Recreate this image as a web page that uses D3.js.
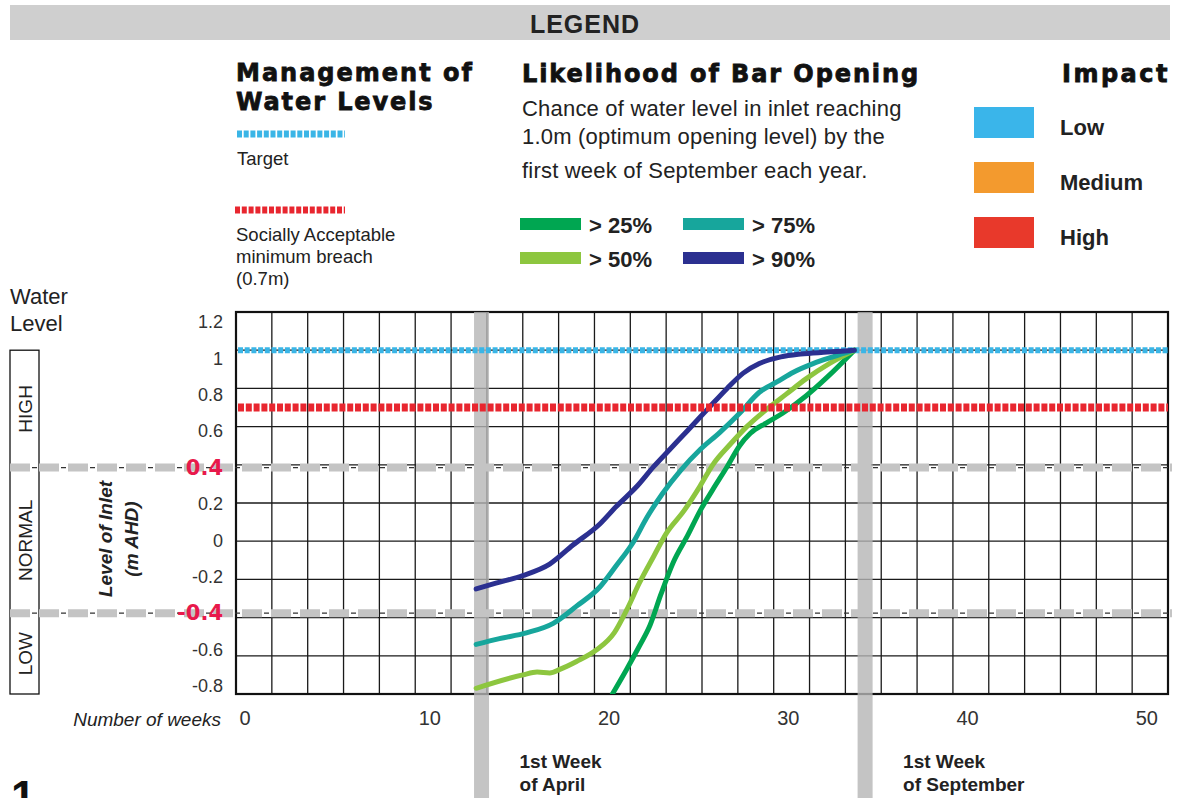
<!DOCTYPE html>
<html>
<head>
<meta charset="utf-8">
<script src="https://cdn.jsdelivr.net/npm/d3@7"></script>
<style>
  body { margin: 0; background: #fff; }
  text { font-family: "Liberation Sans", Arial, sans-serif; fill: #222; }
</style>
</head>
<body>
<div id="chart"></div>
<script>
// Data (week number, inlet level in m AHD)
var weeks25 = [21.0, 21.8, 22.5, 23.1, 23.7, 24.4, 25.2, 25.9, 26.6, 27.4, 28.1, 28.7, 29.6, 30.5, 31.8, 33.0, 34.5];
var level25 = [-0.80, -0.67, -0.55, -0.44, -0.28, -0.11, 0.03, 0.16, 0.27, 0.39, 0.50, 0.565, 0.62, 0.67, 0.76, 0.86, 1.0];

var weeks50 = [13.4, 16.0, 16.8, 17.5, 18.1, 19.0, 20.1, 21.1, 21.8, 22.5, 23.3, 24.0, 25.0, 25.9, 26.6, 27.6, 28.5, 29.6, 30.7, 31.8, 33.1, 34.5];
var level50 = [-0.77, -0.70, -0.685, -0.69, -0.67, -0.63, -0.57, -0.48, -0.36, -0.22, -0.08, 0.04, 0.16, 0.29, 0.40, 0.51, 0.60, 0.69, 0.77, 0.85, 0.93, 1.0];

var weeks75 = [13.4, 14.7, 16.2, 17.7, 19.0, 20.3, 21.2, 22.2, 22.9, 23.8, 24.8, 25.9, 27.0, 28.1, 29.2, 30.2, 31.1, 32.2, 33.3, 34.5];
var level75 = [-0.54, -0.51, -0.48, -0.43, -0.34, -0.24, -0.13, 0.0, 0.12, 0.25, 0.37, 0.48, 0.57, 0.67, 0.78, 0.835, 0.885, 0.93, 0.965, 1.0];

var weeks90 = [13.4, 14.5, 16.0, 17.5, 18.8, 20.3, 21.2, 22.4, 23.3, 24.2, 25.2, 26.3, 27.4, 28.3, 29.2, 30.4, 31.5, 33.0, 34.5];
var level90 = [-0.25, -0.22, -0.18, -0.12, -0.02, 0.09, 0.18, 0.29, 0.39, 0.48, 0.58, 0.69, 0.80, 0.88, 0.93, 0.965, 0.98, 0.99, 1.0];

var seriesNames = ["> 25%", "> 50%", "> 75%", "> 90%"];
var seriesColors = ["#00a651", "#8dc63f", "#17a69c", "#2b3090"];
var seriesWeeks = [weeks25, weeks50, weeks75, weeks90];
var seriesLevels = [level25, level50, level75, level90];

var targetLevel = 1.0;
var breachLevel = 0.7;
var zoneNames = ["HIGH", "NORMAL", "LOW"];
var zoneBreaks = [1.0, 0.4, -0.4, -0.8];

var markerWeeks = [13.7, 35.1];
var markerLabels = [["1st Week", "of April"], ["1st Week", "of September"]];

var impactNames = ["Low", "Medium", "High"];
var impactColors = ["#3ab5ea", "#f39a2e", "#e8392b"];

var yTickValues = [1.2, 1, 0.8, 0.6, 0.4, 0.2, 0, -0.2, -0.4, -0.6, -0.8];
var xTickValues = [0, 10, 20, 30, 40, 50];

//Dimensions
var W = 1179, H = 798;
var plot = { left: 236, right: 1168, top: 312, bottom: 694 };

var svg = d3.select("#chart")
    .append("svg")
    .attr("width", W)
    .attr("height", H);

svg.append("rect").attr("width", W).attr("height", H).attr("fill", "#fff");

//Scales
var x = d3.scaleLinear().domain([0, 52]).range([plot.left, plot.right]);
var y = d3.scaleLinear().domain([-0.8, 1.2]).range([plot.bottom, plot.top]);
// the tick labels in the original sit on a slightly tighter scale than the grid
var yLab = d3.scaleLinear().domain([-0.8, 1.2]).range([686, 322]);

//Legend bar
svg.append("rect")
    .attr("x", 10).attr("y", 5).attr("width", 1160).attr("height", 35)
    .attr("fill", "#cfcfcf");
svg.append("text")
    .attr("x", 585).attr("y", 33)
    .attr("text-anchor", "middle")
    .style("font-size", "25px").style("font-weight", "bold").style("letter-spacing", "1px")
    .text("LEGEND");

//Legend headings
function heading(px, py, str, ls) {
    svg.append("text")
        .attr("x", px).attr("y", py)
        .style("font-family", "'DejaVu Sans', sans-serif")
        .style("font-size", "24px").style("font-weight", "bold")
        .style("letter-spacing", ls + "px")
        .style("fill", "#111")
        .style("stroke", "#111").style("stroke-width", 0.8)
        .text(str);
}
heading(236, 81, "Management of", 2.0);
heading(236, 110, "Water Levels", 1.9);
heading(522, 82, "Likelihood of Bar Opening", 1.9);
heading(1062, 82, "Impact", 2.5);

//Management legend
svg.append("line")
    .attr("x1", 237).attr("x2", 345).attr("y1", 134).attr("y2", 134)
    .attr("stroke", "#3ab5e6").attr("stroke-width", 7).attr("stroke-dasharray", "5,1.7");
svg.append("text").attr("x", 237).attr("y", 165).style("font-size", "18.5px").text("Target");

svg.append("line")
    .attr("x1", 235).attr("x2", 345).attr("y1", 210).attr("y2", 210)
    .attr("stroke", "#e8262f").attr("stroke-width", 7).attr("stroke-dasharray", "5,1.8");
["Socially Acceptable", "minimum breach", "(0.7m)"].forEach(function (s, i) {
    svg.append("text").attr("x", 236).attr("y", 241 + i * 22).style("font-size", "18.5px").text(s);
});

//Likelihood legend
["Chance of water level in inlet reaching",
 "1.0m (optimum opening level) by the",
 "first week of September each year."].forEach(function (s, i) {
    svg.append("text")
        .attr("x", 522).attr("y", [116, 144, 178][i])
        .style("font-size", "22px").style("letter-spacing", "0.2px")
        .text(s);
});

seriesNames.forEach(function (name, i) {
    var col = Math.floor(i / 2), row = i % 2;
    var lx = 520 + col * 163, ly = 224 + row * 34;
    svg.append("rect")
        .attr("x", lx).attr("y", ly - 6).attr("width", 61).attr("height", 12)
        .attr("fill", seriesColors[i]);
    svg.append("text")
        .attr("x", lx + 69).attr("y", ly + 9)
        .style("font-size", "22px").style("font-weight", "bold")
        .text(name);
});

//Impact legend
impactNames.forEach(function (name, i) {
    var ly = 107 + i * 55;
    svg.append("rect")
        .attr("x", 974).attr("y", ly).attr("width", 60).attr("height", 31)
        .attr("fill", impactColors[i]);
    svg.append("text")
        .attr("x", 1060).attr("y", ly + 28)
        .style("font-size", "22px").style("font-weight", "bold")
        .text(name);
});

//Water level label
svg.append("text").attr("x", 10).attr("y", 304).style("font-size", "22px").text("Water");
svg.append("text").attr("x", 10).attr("y", 331).style("font-size", "22px").text("Level");

//Plot background and grid
svg.append("rect")
    .attr("x", plot.left).attr("y", plot.top)
    .attr("width", plot.right - plot.left).attr("height", plot.bottom - plot.top)
    .attr("fill", "#fff");

var grid = svg.append("g").attr("stroke", "#1a1a1a").attr("stroke-width", 1.3);
grid.selectAll(".gx")
    .data(d3.range(2, 52, 2))
    .enter().append("line")
    .attr("x1", function (d) { return x(d); }).attr("x2", function (d) { return x(d); })
    .attr("y1", plot.top).attr("y2", plot.bottom);
grid.selectAll(".gy")
    .data(y.ticks(10))
    .enter().append("line")
    .attr("x1", plot.left).attr("x2", plot.right)
    .attr("y1", function (d) { return y(d); }).attr("y2", function (d) { return y(d); });

svg.append("rect")
    .attr("x", plot.left).attr("y", plot.top)
    .attr("width", plot.right - plot.left).attr("height", plot.bottom - plot.top)
    .attr("fill", "none").attr("stroke", "#111").attr("stroke-width", 2.2);

//Month markers
markerWeeks.forEach(function (w, i) {
    svg.append("rect")
        .attr("x", x(w) - 7.5).attr("y", plot.top)
        .attr("width", 15).attr("height", H - plot.top)
        .attr("fill", "#b5b5b5").attr("opacity", 0.8);
    markerLabels[i].forEach(function (s, j) {
        svg.append("text")
            .attr("x", x(w) + 38).attr("y", 768 + j * 23)
            .style("font-size", "19px").style("font-weight", "bold")
            .text(s);
    });
});

//Zone box on the left
svg.append("rect")
    .attr("x", 10).attr("y", y(zoneBreaks[0]))
    .attr("width", 29).attr("height", y(zoneBreaks[3]) - y(zoneBreaks[0]))
    .attr("fill", "none").attr("stroke", "#111").attr("stroke-width", 1.3);

var zoneEdges = [y(zoneBreaks[0]), yLab(zoneBreaks[1]), yLab(zoneBreaks[2]), y(zoneBreaks[3])];
zoneNames.forEach(function (name, i) {
    var cy = (zoneEdges[i] + zoneEdges[i + 1]) / 2;
    svg.append("text")
        .attr("transform", "translate(25," + cy + ") rotate(-90)")
        .attr("text-anchor", "middle").attr("dy", "0.36em")
        .style("font-size", "19px")
        .text(name);
});

//Zone boundary lines
[zoneBreaks[1], zoneBreaks[2]].forEach(function (v) {
    svg.append("line")
        .attr("x1", 10).attr("x2", 1172).attr("y1", yLab(v)).attr("y2", yLab(v))
        .attr("stroke", "#c4c4c4").attr("stroke-width", 8).attr("stroke-dasharray", "20,9");
    svg.append("line")
        .attr("x1", 10).attr("x2", 1172).attr("y1", yLab(v)).attr("y2", yLab(v))
        .attr("stroke", "#333").attr("stroke-width", 1.2)
        .attr("stroke-dasharray", "5,24").attr("stroke-dashoffset", 7);
});

//Target line
svg.append("line")
    .attr("x1", plot.left + 2).attr("x2", plot.right).attr("y1", y(targetLevel)).attr("y2", y(targetLevel))
    .attr("stroke", "#3ab5e6").attr("stroke-width", 6).attr("stroke-dasharray", "5,1.7");

//Curves
svg.append("clipPath").attr("id", "plotclip")
    .append("rect")
    .attr("x", plot.left).attr("y", plot.top)
    .attr("width", plot.right - plot.left).attr("height", plot.bottom - plot.top);

var line = d3.line()
    .x(function (d) { return x(d[0]); })
    .y(function (d) { return y(d[1]); })
    .curve(d3.curveMonotoneX);

svg.append("g").attr("clip-path", "url(#plotclip)")
    .selectAll("path")
    .data(seriesWeeks.map(function (w, i) { return d3.zip(w, seriesLevels[i]); }))
    .enter().append("path")
    .attr("d", line)
    .attr("fill", "none")
    .attr("stroke", function (d, i) { return seriesColors[i]; })
    .attr("stroke-width", 5)
    .attr("stroke-linecap", "round");

//Breach line
svg.append("line")
    .attr("x1", plot.left + 2).attr("x2", plot.right).attr("y1", y(breachLevel)).attr("y2", y(breachLevel))
    .attr("stroke", "#e8262f").attr("stroke-width", 8).attr("stroke-dasharray", "6,1.8");

//Y axis
var yAxis = svg.append("g")
    .attr("transform", "translate(" + plot.left + ",0)")
    .call(d3.axisLeft(yLab).tickValues(yTickValues).tickSize(0).tickPadding(13)
        .tickFormat(function (d) { return String(+d.toFixed(1)); }));
yAxis.select(".domain").remove();
yAxis.selectAll("text")
    .style("font-family", "'Liberation Sans', Arial, sans-serif")
    .style("font-size", "18px").style("fill", "#333");
yAxis.selectAll(".tick")
    .filter(function (d) { return Math.abs(Math.abs(d) - 0.4) < 1e-9; })
    .select("text")
    .style("font-family", "'DejaVu Sans', sans-serif")
    .style("font-size", "21px").style("font-weight", "bold").style("fill", "#e8194b");

//Y axis title
svg.append("text")
    .attr("transform", "translate(112,539) rotate(-90)")
    .attr("text-anchor", "middle")
    .style("font-size", "19px").style("font-style", "italic").style("font-weight", "bold")
    .text("Level of Inlet");
svg.append("text")
    .attr("transform", "translate(138,539) rotate(-90)")
    .attr("text-anchor", "middle")
    .style("font-size", "19px").style("font-style", "italic").style("font-weight", "bold")
    .text("(m AHD)");

//X axis
var xAxis = svg.append("g")
    .attr("transform", "translate(0," + plot.bottom + ")")
    .call(d3.axisBottom(x).tickValues(xTickValues).tickSize(0).tickPadding(17));
xAxis.select(".domain").remove();
xAxis.selectAll("text")
    .attr("text-anchor", "start").attr("dx", 3)
    .style("font-family", "'Liberation Sans', Arial, sans-serif")
    .style("font-size", "20px").style("fill", "#333");

svg.append("text")
    .attr("x", 221).attr("y", 726)
    .attr("text-anchor", "end")
    .style("font-size", "19px").style("font-style", "italic")
    .text("Number of weeks");

//Page number
svg.append("text")
    .attr("x", 11).attr("y", 812)
    .style("font-size", "44px").style("font-weight", "bold").style("fill", "#111")
    .text("1");
</script>
</body>
</html>
